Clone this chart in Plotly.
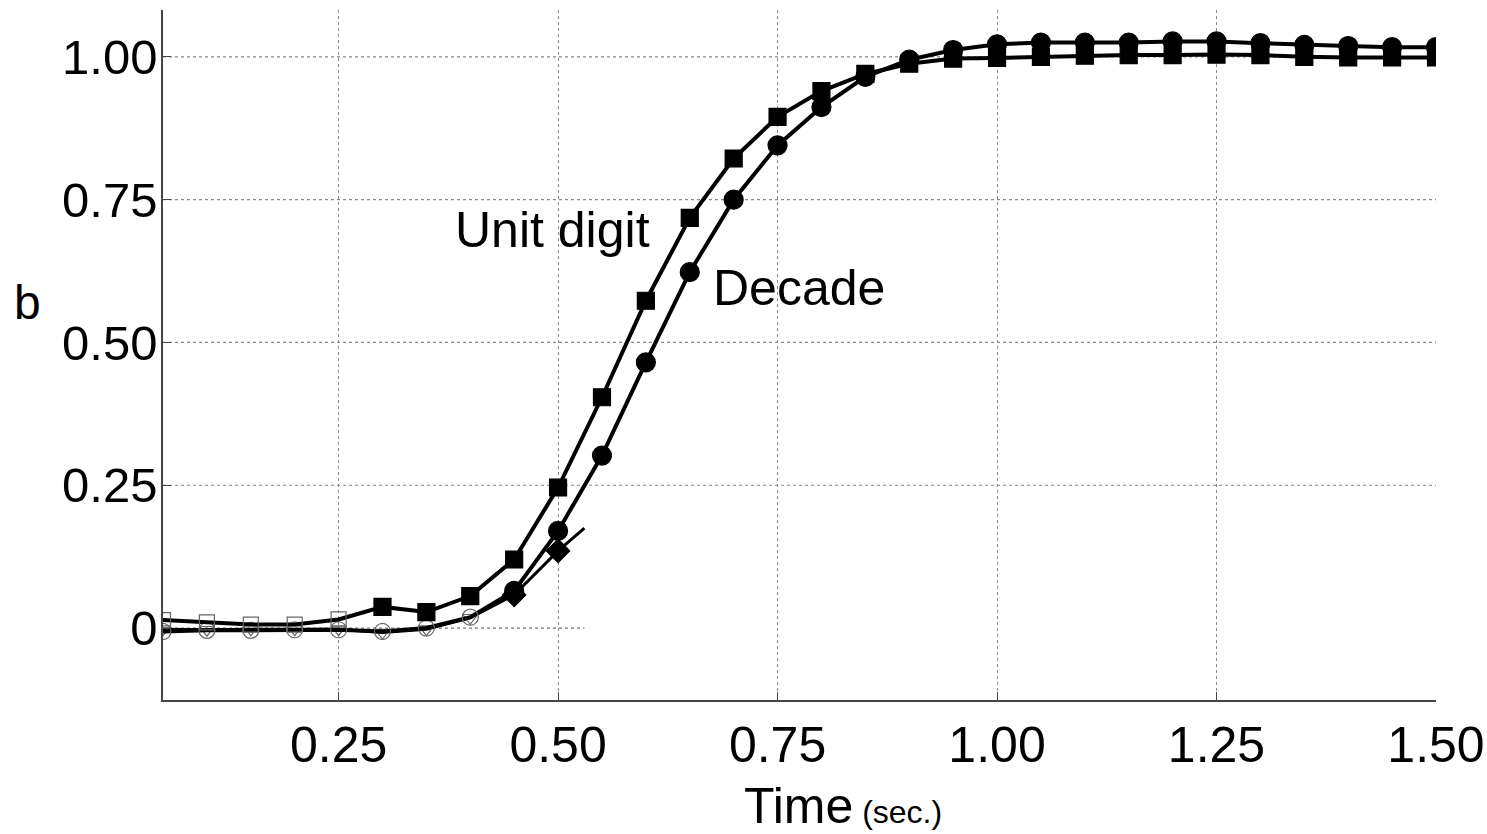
import plotly.graph_objects as go

time = [0.05, 0.10, 0.15, 0.20, 0.25, 0.30, 0.35, 0.40, 0.45, 0.50,
        0.55, 0.60, 0.65, 0.70, 0.75, 0.80, 0.85, 0.90, 0.95, 1.00,
        1.05, 1.10, 1.15, 1.20, 1.25, 1.30, 1.35, 1.40, 1.45, 1.50]

unit_digit = [0.014, 0.010, 0.006, 0.006, 0.015, 0.037, 0.028, 0.056, 0.120, 0.246,
              0.404, 0.573, 0.718, 0.822, 0.895, 0.940, 0.970, 0.988, 0.997, 0.998,
              1.000, 1.002, 1.003, 1.003, 1.004, 1.003, 1.000, 0.999, 0.999, 0.999]

decade = [-0.006, -0.004, -0.004, -0.003, -0.003, -0.006, 0.000, 0.019, 0.065, 0.170,
          0.302, 0.465, 0.623, 0.750, 0.845, 0.912, 0.965, 0.995, 1.012, 1.022,
          1.025, 1.025, 1.025, 1.027, 1.027, 1.024, 1.021, 1.019, 1.017, 1.017]

third_time = [0.05, 0.10, 0.15, 0.20, 0.25, 0.30, 0.35, 0.40, 0.45, 0.50, 0.53]
third_vals = [-0.002, -0.003, -0.002, -0.002, -0.002, -0.008, -0.002, 0.018, 0.058, 0.135, 0.175]

x_ticks = [0.25, 0.50, 0.75, 1.00, 1.25, 1.50]
x_tick_text = ["0.25", "0.50", "0.75", "1.00", "1.25", "1.50"]
y_ticks = [0, 0.25, 0.50, 0.75, 1.00]
y_tick_text = ["0", "0.25", "0.50", "0.75", "1.00"]

n_open_unit = 5
n_open_dec = 8
n_open_third = 8

FONT = "Liberation Sans, Arial, sans-serif"

fig = go.Figure()

# third (short) series
third_sym = ["triangle-down-open"] * n_open_third + ["diamond", "diamond", "diamond"]
third_size = [13] * n_open_third + [18, 18, 0]
third_col = ["#666"] * n_open_third + ["black", "black", "black"]
fig.add_trace(go.Scatter(x=third_time, y=third_vals, mode="lines+markers",
                         line=dict(color="black", width=3),
                         marker=dict(symbol=third_sym, size=third_size, color=third_col,
                                     opacity=1, line=dict(width=1.2, color=third_col)),
                         showlegend=False))

dec_sym = ["circle-open"] * n_open_dec + ["circle"] * (len(time) - n_open_dec)
dec_col = ["#666"] * n_open_dec + ["black"] * (len(time) - n_open_dec)
dec_size = [16] * n_open_dec + [19] * (len(time) - n_open_dec)
fig.add_trace(go.Scatter(x=time, y=decade, mode="lines+markers",
                         line=dict(color="black", width=4),
                         marker=dict(symbol=dec_sym, size=dec_size, color=dec_col,
                                     opacity=1, line=dict(width=1.2, color=dec_col)),
                         showlegend=False))

unit_sym = ["square-open"] * n_open_unit + ["square"] * (len(time) - n_open_unit)
unit_col = ["#666"] * n_open_unit + ["black"] * (len(time) - n_open_unit)
unit_size = [15] * n_open_unit + [17] * (len(time) - n_open_unit)
fig.add_trace(go.Scatter(x=time, y=unit_digit, mode="lines+markers",
                         line=dict(color="black", width=4),
                         marker=dict(symbol=unit_sym, size=unit_size, color=unit_col,
                                     opacity=1, line=dict(width=1.2, color=unit_col)),
                         showlegend=False))

# partial dotted zero line
fig.add_shape(type="line", x0=0.05, x1=0.53, y0=0, y1=0, xref="x", yref="y",
              line=dict(color="#777", width=1.2, dash="dot"), layer="below")

fig.add_annotation(x=0.494, y=0.697, text="Unit digit", showarrow=False,
                   font=dict(family=FONT, size=50, color="black"), xanchor="center")
fig.add_annotation(x=0.774, y=0.595, text="Decade", showarrow=False,
                   font=dict(family=FONT, size=50, color="black"), xanchor="center")
fig.add_annotation(x=-0.119, y=0.57, xref="paper", yref="y", text="b", showarrow=False,
                   font=dict(family=FONT, size=48, color="black"))
fig.add_annotation(x=0.534, y=-0.11, xref="paper", yref="paper",
                   text="Time<span style='font-size:32px'> (sec.)</span>", showarrow=False,
                   font=dict(family=FONT, size=50, color="black"), yanchor="top")

fig.update_layout(
    width=1487, height=834,
    margin=dict(l=163, r=51, t=10, b=134, autoexpand=False),
    paper_bgcolor="white", plot_bgcolor="white",
    font=dict(family=FONT, color="black"),
    xaxis=dict(range=[0.05, 1.5], tickvals=x_ticks, ticktext=x_tick_text,
               tickfont=dict(size=50), showgrid=True, gridcolor="#888", griddash="dot",
               gridwidth=1.2, showline=True, linecolor="#444", linewidth=1.5,
               ticks="inside", ticklen=8, tickcolor="#444", zeroline=False, mirror=False,
               automargin=False),
    yaxis=dict(range=[-0.126, 1.082], tickvals=y_ticks, ticktext=y_tick_text,
               tickfont=dict(size=49), showgrid=False,
               showline=True, linecolor="#444", linewidth=1.5,
               ticks="inside", ticklen=8, tickcolor="#444", zeroline=False,
               automargin=False, ticklabelstandoff=-6),
)

# horizontal dotted grid lines (excluding zero which is partial)
for yv in [0.25, 0.50, 0.75, 1.00]:
    fig.add_shape(type="line", x0=0.05, x1=1.5, y0=yv, y1=yv, xref="x", yref="y",
                  line=dict(color="#888", width=1.2, dash="dot"), layer="below")

fig.write_html("out.html")
